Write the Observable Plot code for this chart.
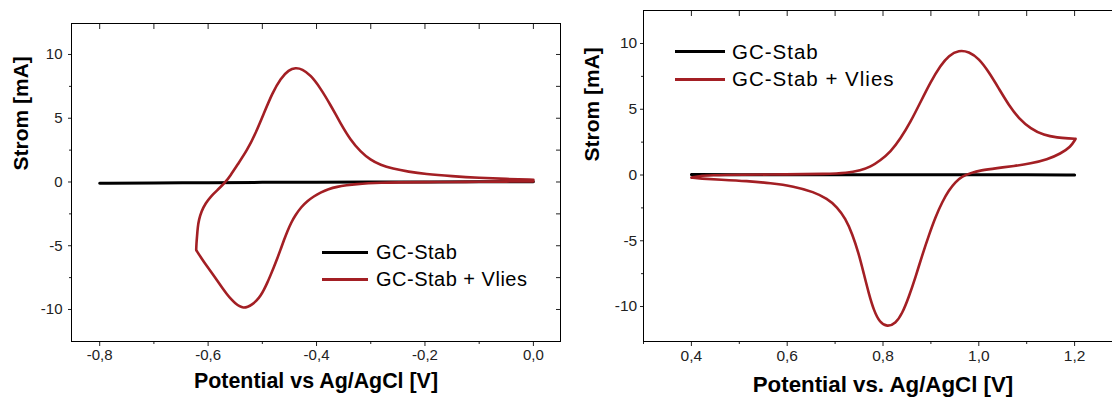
<!DOCTYPE html>
<html><head><meta charset="utf-8">
<script src="https://cdn.jsdelivr.net/npm/d3@7"></script>
<script src="https://cdn.jsdelivr.net/npm/@observablehq/plot@0.6"></script>
<style>
html,body{margin:0;padding:0;background:#fff;}
#wrap{position:relative;width:1112px;height:401px;overflow:hidden;background:#fff;font-family:"Liberation Sans",Arial,sans-serif;}
.panel{position:absolute;top:0;width:580px;height:401px;}
.row{position:absolute;display:flex;align-items:center;white-space:nowrap;color:#000;font-family:"Liberation Sans",Arial,sans-serif;}
.sw{display:inline-block;}
</style></head><body>
<div id="wrap">
  <div id="left" class="panel" style="left:0px"></div>
  <div id="right" class="panel" style="left:560px"></div>
  <div id="legL"></div>
  <div id="legR"></div>
</div>
<script>
// ---------- data ----------
const seriesNames = ["GC-Stab", "GC-Stab + Vlies"];
const seriesColors = ["#000000", "#a31f24"];

// left panel (corner at the switching potential listed three times so the smooth curve keeps it sharp)
const leftBlankX = [-0.8, -0.7, -0.6, -0.5, -0.4, -0.3, -0.2, -0.1, 0.0];
const leftBlankY = [-0.1, -0.07, -0.05, -0.03, -0.01, 0.0, 0.0, 0.01, 0.02];
const leftVliesX = [0.0, -0.05, -0.1, -0.15, -0.2, -0.25, -0.282, -0.305, -0.325, -0.345, -0.362, -0.378, -0.393, -0.405, -0.417, -0.428, -0.439, -0.447, -0.454, -0.46, -0.466, -0.472, -0.479, -0.485, -0.491, -0.497, -0.503, -0.511, -0.519, -0.527, -0.535, -0.542, -0.549, -0.557, -0.565, -0.574, -0.583, -0.592, -0.6015, -0.612, -0.622, -0.622, -0.622,
  -0.6215, -0.6205, -0.619, -0.617, -0.6125, -0.6046, -0.5954, -0.582, -0.5677, -0.559, -0.5462, -0.5277, -0.5124, -0.4971, -0.4817, -0.4664, -0.4511, -0.4387, -0.4264, -0.4111, -0.3926, -0.3742, -0.3558, -0.3373, -0.3189, -0.3005, -0.282, -0.26, -0.23, -0.2, -0.15, -0.1, -0.05, 0.0];
const leftVliesY = [0.05, 0.03, 0.02, 0.0, -0.01, -0.03, -0.05, -0.1, -0.16, -0.26, -0.37, -0.55, -0.84, -1.12, -1.5, -1.95, -2.6, -3.2, -3.88, -4.55, -5.25, -5.95, -6.7, -7.33, -7.92, -8.45, -8.9, -9.33, -9.62, -9.8, -9.88, -9.75, -9.55, -9.22, -8.82, -8.3, -7.75, -7.2, -6.65, -6.0, -5.34, -5.34, -5.34,
  -4.8, -4.29, -3.5, -2.98, -2.3, -1.67, -1.15, -0.6, 0.0, 0.5, 1.33, 2.51, 3.82, 5.39, 6.96, 8.13, 8.8, 8.96, 8.86, 8.39, 7.35, 6.04, 4.6, 3.29, 2.38, 1.73, 1.33, 1.05, 0.8, 0.62, 0.45, 0.32, 0.24, 0.18];
const leftXMajor = [-0.8, -0.6, -0.4, -0.2, 0.0];
const leftXMinor = [-0.7, -0.5, -0.3, -0.1];

// right panel (turning point at 1,2 V listed three times)
const rightBlankX = [0.4, 0.5, 0.6, 0.7, 0.8, 0.9, 1.0, 1.1, 1.2];
const rightBlankY = [0.03, 0.03, 0.02, 0.02, 0.02, 0.02, 0.02, 0.01, 0.01];
const rightVliesX = [0.4, 0.415, 0.44, 0.5, 0.6, 0.68, 0.7252, 0.753, 0.7739, 0.7948, 0.8157, 0.8366, 0.8575, 0.8784, 0.8992, 0.9201, 0.9375, 0.9584, 0.9793, 1.0002, 1.021, 1.0419, 1.0628, 1.0837, 1.1081, 1.1359, 1.1638, 1.19, 1.2021, 1.2021, 1.2021,
  1.1917, 1.1708, 1.1429, 1.1081, 1.0732, 1.0385, 1.0037, 0.9828, 0.9654, 0.9514, 0.9375, 0.9236, 0.9096, 0.8957, 0.8818, 0.8679, 0.8539, 0.8401, 0.8261, 0.8088, 0.7933, 0.7808, 0.7704, 0.7599, 0.7494, 0.7357, 0.7217, 0.7043, 0.6834, 0.6555, 0.6137, 0.565, 0.5163, 0.4606, 0.4188, 0.4];
const rightVliesY = [-0.2, -0.08, -0.02, 0.02, 0.05, 0.08, 0.15, 0.36, 0.61, 1.12, 1.75, 2.77, 4.03, 5.55, 7.07, 8.34, 9.1, 9.5, 9.38, 8.85, 7.83, 6.57, 5.3, 4.29, 3.53, 3.02, 2.84, 2.78, 2.75, 2.75, 2.75,
  2.13, 1.63, 1.17, 0.87, 0.68, 0.53, 0.36, 0.15, -0.1, -0.53, -1.16, -2.05, -3.19, -4.59, -6.11, -7.76, -9.28, -10.54, -11.3, -11.55, -11.22, -10.29, -9.02, -7.5, -5.98, -4.46, -3.32, -2.43, -1.8, -1.29, -0.86, -0.61, -0.46, -0.35, -0.27, -0.2];
const rightXMajor = [0.4, 0.6, 0.8, 1.0, 1.2];
const rightXMinor = [0.3, 0.5, 0.7, 0.9, 1.1];

// shared y ticks and titles
const yMajor = [-10, -5, 0, 5, 10];
const yMinor = [-7.5, -2.5, 2.5, 7.5];
const yTitle = "Strom [mA]";
const leftXTitle = "Potential vs Ag/AgCl [V]";
const rightXTitle = "Potential vs. Ag/AgCl [V]";

// ---------- drawing ----------
const fmtX = d => d.toFixed(1).replace(".", ",");
const fmtY = d => String(d);
const toRows = (X, Y) => X.map((x, i) => ({x, y: Y[i]}));

function panel(o) {
  return Plot.plot({
    width: 580, height: 401,
    marginLeft: o.mL, marginRight: o.mR, marginTop: o.mT, marginBottom: o.mB,
    x: {domain: o.xDom},
    y: {domain: o.yDom},
    style: {fontFamily: "'Liberation Sans', Arial, sans-serif", fontSize: o.tickFont + "px", color: "#222", background: "transparent", overflow: "visible"},
    marks: [
      Plot.axisX({ticks: o.xMajor, tickSize: 5, tickPadding: 3, tickFormat: fmtX, label: null}),
      Plot.axisX({ticks: o.xMinor, tickSize: 3, tickFormat: () => "", label: null}),
      Plot.axisX({anchor: "top", ticks: [...o.xMajor, ...o.xMinor], tickSize: -5, tickFormat: () => "", label: null}),
      Plot.axisY({ticks: yMajor, tickSize: 3, tickPadding: o.yPad, tickFormat: fmtY, label: null}),
      Plot.axisY({ticks: yMinor, tickSize: 2, tickFormat: () => "", label: null}),
      Plot.axisY({anchor: "right", ticks: [...yMajor, ...yMinor], tickSize: -5, tickFormat: () => "", label: null}),
      Plot.frame({stroke: "#000", strokeWidth: 1}),
      Plot.line(o.blank, {x: "x", y: "y", stroke: seriesColors[0], strokeWidth: 3, curve: "basis"}),
      Plot.line(o.vlies, {x: "x", y: "y", stroke: seriesColors[1], strokeWidth: 2.6, curve: "basis", strokeLinejoin: "round"}),
      Plot.text([o.xTitle], {text: d => d, frameAnchor: "bottom", dy: o.xTitleDy, lineAnchor: "bottom", fontWeight: "bold", fontSize: o.xTitleSize, fill: "#000"}),
      Plot.text([yTitle], {text: d => d, frameAnchor: "left", rotate: -90, dx: o.yTitleDx, dy: o.yTitleDy, lineAnchor: "bottom", fontWeight: "bold", fontSize: 21, fill: "#000"})
    ]
  });
}

document.getElementById("left").append(panel({
  mL: 71, mR: 20, mT: 23, mB: 60,
  xDom: [-0.852, 0.05], yDom: [-12.51, 12.43],
  xMajor: leftXMajor, xMinor: leftXMinor,
  blank: toRows(leftBlankX, leftBlankY), vlies: toRows(leftVliesX, leftVliesY),
  tickFont: 15, yPad: 6, xTitle: leftXTitle, xTitleDy: 46, xTitleSize: 21.4,
  yTitleDx: -44, yTitleDy: -12
}));
document.getElementById("right").append(panel({
  mL: 83, mR: 18, mT: 10, mB: 60,
  xDom: [0.3, 1.3], yDom: [-12.66, 12.51],
  xMajor: rightXMajor, xMinor: rightXMinor,
  blank: toRows(rightBlankX, rightBlankY), vlies: toRows(rightVliesX, rightVliesY),
  tickFont: 15.5, yPad: 3.3, xTitle: rightXTitle, xTitleDy: 50, xTitleSize: 22.3,
  yTitleDx: -44.5, yTitleDy: -14.5
}));

// legends
function legend(id, x, ys, lineLen, gap, fontSize, spacing) {
  const el = document.getElementById(id);
  seriesNames.forEach((name, i) => {
    const row = document.createElement("div");
    row.className = "row";
    row.style.left = x + "px";
    row.style.top = (ys[i] - 14) + "px";
    row.style.height = "28px";
    row.style.fontSize = fontSize + "px";
    row.style.letterSpacing = spacing + "px";
    const sw = document.createElement("span");
    sw.className = "sw";
    sw.style.width = lineLen + "px";
    sw.style.height = "3px";
    sw.style.background = seriesColors[i];
    sw.style.marginRight = gap + "px";
    const t = document.createElement("span");
    t.textContent = name;
    row.append(sw, t);
    el.append(row);
  });
}
legend("legL", 322, [252.7, 279], 46, 8, 20, 0.5);
legend("legR", 675, [51.7, 79.3], 50, 7, 20.5, 1);
</script>
</body></html>
